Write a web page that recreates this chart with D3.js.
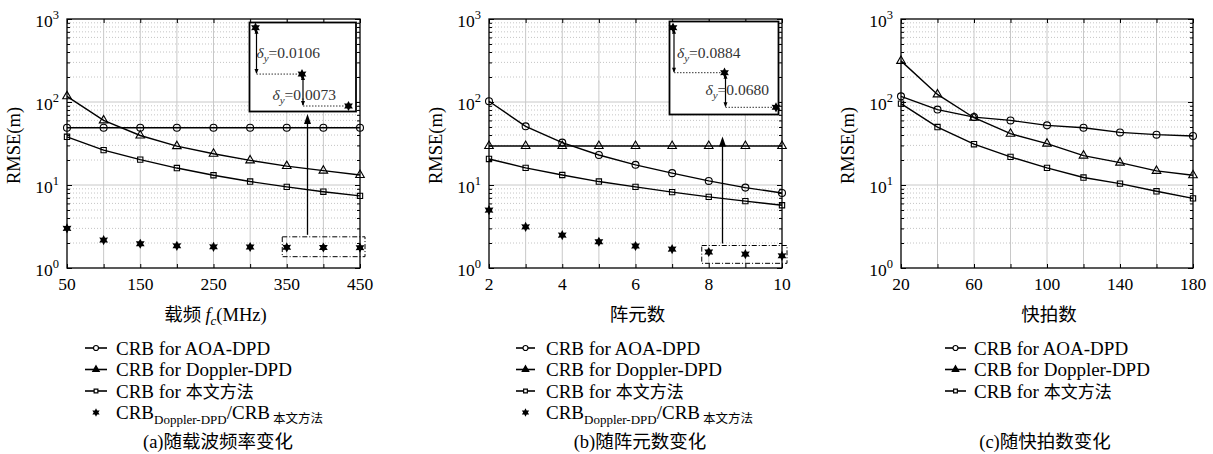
<!DOCTYPE html>
<html>
<head>
<meta charset="utf-8">
<script src="https://cdn.jsdelivr.net/npm/d3@7"></script>
<style>
  body { margin: 0; background: #fff; }
  svg text { font-family: "Liberation Serif", "Times New Roman", Times, "DejaVu Serif", serif; fill: #000; }
  svg .cjk { font-family: "Noto Sans CJK SC", "Noto Sans CJK JP", sans-serif; }
</style>
</head>
<body>
<svg id="chart" width="1213" height="454"></svg>
<script>
// ---- data ----
const yDecades = [1, 10, 100, 1000];
const yDecadeExp = ["0", "1", "2", "3"];

// (a) carrier frequency
const freqX = [50, 100, 150, 200, 250, 300, 350, 400, 450];
const freqTicks = [50, 150, 250, 350, 450];
const freqAoa = [49, 49, 49, 49, 49, 49, 49, 49, 49];
const freqDoppler = [117, 60, 39.5, 29.4, 23.8, 19.8, 16.9, 14.9, 13.2];
const freqOurs = [38.1, 26.3, 20.2, 16.0, 13.1, 11.0, 9.5, 8.3, 7.4];
const freqRatio = [3.0, 2.17, 1.96, 1.85, 1.80, 1.79, 1.775, 1.7644, 1.7571];
const freqDelta = ["0.0106", "0.0073"];

// (b) number of array elements
const elemX = [2, 3, 4, 5, 6, 7, 8, 9, 10];
const elemTicks = [2, 4, 6, 8, 10];
const elemAoa = [102, 50.9, 32.4, 23.0, 17.5, 13.9, 11.2, 9.3, 8.0];
const elemDoppler = [29.5, 29.5, 29.5, 29.5, 29.5, 29.5, 29.5, 29.5, 29.5];
const elemOurs = [20.6, 16.1, 13.2, 11.0, 9.5, 8.2, 7.2, 6.4, 5.7];
const elemRatio = [4.98, 3.13, 2.49, 2.07, 1.84, 1.69, 1.5584, 1.47, 1.402];
const elemDelta = ["0.0884", "0.0680"];

// (c) snapshots
const snapX = [20, 40, 60, 80, 100, 120, 140, 160, 180];
const snapTicks = [20, 60, 100, 140, 180];
const snapAoa = [117, 81, 65.8, 60, 52.3, 49, 43, 40.4, 38.9];
const snapDoppler = [313, 123.5, 64.6, 41.5, 31.5, 22.6, 18.6, 14.8, 13.1];
const snapOurs = [95.5, 49.9, 31, 21.8, 16.1, 12.3, 10.4, 8.4, 6.9];

const legendNames = ["CRB for AOA-DPD", "CRB for Doppler-DPD", "CRB for "];
const oursName = "本文方法";

const svg = d3.select("#chart");
const TOP = 19, BOTTOM = 268;
const LEG_Y = [354.5, 376, 397.5, 419];

// 6-pointed star (hexagram) marker
const hexStar = {
  draw(ctx, size) {
    const r = Math.sqrt(size) * 0.75, ri = r * 0.55;
    for (let i = 0; i < 12; i++) {
      const a = -Math.PI / 2 + i * Math.PI / 6;
      const rr = i % 2 ? ri : r;
      if (i === 0) ctx.moveTo(rr * Math.cos(a), rr * Math.sin(a));
      else ctx.lineTo(rr * Math.cos(a), rr * Math.sin(a));
    }
    ctx.closePath();
  }
};

const markerFor = (kind, big) => {
  if (kind === "circle") return d3.symbol(d3.symbolCircle, big ? 38 : 20)();
  if (kind === "tri") return d3.symbol(d3.symbolTriangle, big ? 32 : 18)();
  if (kind === "square") return d3.symbol(d3.symbolSquare, big ? 28 : 14)();
  return d3.symbol(hexStar, big ? 46 : 32)();
};

const drawPanel = (p) => {
  const x = d3.scaleLinear().domain(d3.extent(p.xs)).range([p.left, p.right]);
  const y = d3.scaleLog().domain([1, 1000]).range([BOTTOM, TOP]);
  const g = svg.append("g");

  // grid
  const minor = y.ticks().filter(v => !yDecades.includes(v));
  g.append("g").selectAll("line").data(minor).join("line")
    .attr("x1", p.left).attr("x2", p.right)
    .attr("y1", d => y(d)).attr("y2", d => y(d))
    .attr("stroke", "#b5b5b5").attr("stroke-width", 0.8).attr("stroke-dasharray", "1,2");
  g.append("g").selectAll("line").data(yDecades.slice(1, -1)).join("line")
    .attr("x1", p.left).attr("x2", p.right)
    .attr("y1", d => y(d)).attr("y2", d => y(d))
    .attr("stroke", "#c8c8c8").attr("stroke-width", 1);
  g.append("g").selectAll("line").data(p.xs.slice(1, -1)).join("line")
    .attr("x1", d => x(d)).attr("x2", d => x(d))
    .attr("y1", TOP).attr("y2", BOTTOM)
    .attr("stroke", "#c8c8c8").attr("stroke-width", 1);

  // ticks pointing inward on all four sides
  const tickStyle = sel => { sel.select(".domain").remove(); sel.selectAll("text").remove(); sel.selectAll("line").attr("stroke", "#000"); };
  g.append("g").attr("transform", `translate(${p.left},0)`)
    .call(d3.axisLeft(y).tickValues(yDecades).tickSize(-5)).call(tickStyle);
  g.append("g").attr("transform", `translate(${p.left},0)`)
    .call(d3.axisLeft(y).tickValues(minor).tickSize(-3)).call(tickStyle);
  g.append("g").attr("transform", `translate(${p.right},0)`)
    .call(d3.axisRight(y).tickValues(yDecades).tickSize(-5)).call(tickStyle);
  g.append("g").attr("transform", `translate(${p.right},0)`)
    .call(d3.axisRight(y).tickValues(minor).tickSize(-3)).call(tickStyle);
  g.append("g").attr("transform", `translate(0,${BOTTOM})`)
    .call(d3.axisBottom(x).tickValues(p.xs).tickSize(-4)).call(tickStyle);
  g.append("g").attr("transform", `translate(0,${TOP})`)
    .call(d3.axisTop(x).tickValues(p.xs).tickSize(-4)).call(tickStyle);

  // frame
  g.append("rect").attr("x", p.left).attr("y", TOP)
    .attr("width", p.right - p.left).attr("height", BOTTOM - TOP)
    .attr("fill", "none").attr("stroke", "#000").attr("stroke-width", 1.3);

  // y tick labels 10^n
  yDecades.forEach((v, i) => {
    const t = g.append("text").attr("x", p.left - 8).attr("y", y(v) + 8)
      .attr("text-anchor", "end").style("font-size", "17.5px");
    t.append("tspan").text("10");
    t.append("tspan").attr("dy", -8).style("font-size", "12.5px").text(yDecadeExp[i]);
  });
  // x tick labels
  g.append("g").selectAll("text").data(p.ticks).join("text")
    .attr("x", d => x(d)).attr("y", BOTTOM + 22)
    .attr("text-anchor", "middle").style("font-size", "17.5px").text(d => d);

  // y title
  g.append("text")
    .attr("transform", `translate(${p.left - 47},${(TOP + BOTTOM) / 2 + 2}) rotate(-90)`)
    .attr("text-anchor", "middle").style("font-size", "18.5px").text("RMSE(m)");

  // x title
  const xt = g.append("text").attr("x", (p.left + p.right) / 2 + 2).attr("y", 321)
    .attr("text-anchor", "middle").style("font-size", "18.5px");
  p.xTitle(xt);

  // series
  const line = d3.line().x(d => x(d[0])).y(d => y(d[1]));
  p.series.forEach(s => {
    const pts = d3.zip(p.xs, s.values);
    g.append("path").datum(pts).attr("d", line)
      .attr("fill", "none").attr("stroke", "#000").attr("stroke-width", 1.4);
    g.append("g").selectAll("path").data(pts).join("path")
      .attr("transform", d => `translate(${x(d[0])},${y(d[1])})`)
      .attr("d", markerFor(s.marker, true))
      .attr("fill", "none").attr("stroke", "#000").attr("stroke-width", 1.1);
  });
  if (p.ratio) {
    const pts = d3.zip(p.xs, p.ratio);
    g.append("g").selectAll("path").data(pts).join("path")
      .attr("transform", d => `translate(${x(d[0])},${y(d[1])})`)
      .attr("d", markerFor("star", true)).attr("fill", "#000");
  }

  // zoom-in inset
  if (p.inset) {
    const ins = p.inset;
    const last = p.xs.slice(-3), lastV = p.ratio.slice(-3);
    const rx0 = x(last[0]) - ins.padL, rx1 = x(last[2]) + 5;
    const ry0 = y(d3.max(lastV)) - ins.padT, ry1 = y(d3.min(lastV)) + ins.padB;
    g.append("rect").attr("x", rx0).attr("y", ry0)
      .attr("width", rx1 - rx0).attr("height", ry1 - ry0)
      .attr("fill", "none").attr("stroke", "#000").attr("stroke-width", 1)
      .attr("stroke-dasharray", "5,2,1,2");
    g.append("line").attr("x1", ins.arrowX).attr("x2", ins.arrowX)
      .attr("y1", ry0 - 2).attr("y2", ins.arrowTip + 8)
      .attr("stroke", "#000").attr("stroke-width", 1.3);
    g.append("path")
      .attr("d", `M${ins.arrowX},${ins.arrowTip} l-3.5,10 l7,0 z`).attr("fill", "#000");

    const [bx0, by0, bx1, by1] = ins.box;
    g.append("rect").attr("x", bx0).attr("y", by0)
      .attr("width", bx1 - bx0).attr("height", by1 - by0)
      .attr("fill", "#fff").attr("stroke", "#000").attr("stroke-width", 1.8);
    const ix = d3.scaleLinear().domain([last[0], last[2]]).range(ins.xr);
    const iy = d3.scaleLinear().domain([lastV[0], lastV[2]]).range(ins.yr);
    const P = last.map((v, i) => [ix(v), iy(lastV[i])]);
    // steps between the three points
    for (let k = 0; k < 2; k++) {
      const [ax, ay] = P[k], [bx, by] = P[k + 1];
      const vx = ax + 1;
      g.append("line").attr("x1", vx).attr("x2", vx).attr("y1", ay + 2).attr("y2", by - 1)
        .attr("stroke", "#000").attr("stroke-width", 1.2);
      g.append("path").attr("d", `M${vx},${ay + 1} l-2,5 l4,0 z`).attr("fill", "#000");
      g.append("path").attr("d", `M${vx},${by} l-2,-5 l4,0 z`).attr("fill", "#000");
      g.append("line").attr("x1", vx).attr("x2", bx).attr("y1", by).attr("y2", by)
        .attr("stroke", "#333").attr("stroke-width", 1).attr("stroke-dasharray", "1.5,1.5");
      const t = g.append("text").attr("x", ins.labels[k][0]).attr("y", ins.labels[k][1] + 5)
        .style("font-size", "15.5px").style("fill", "#333");
      t.append("tspan").style("font-style", "italic").style("fill", "#333").text("δ");
      t.append("tspan").attr("dy", 4).style("font-size", "11px").style("font-style", "italic")
        .style("fill", "#333").text("y");
      t.append("tspan").attr("dy", -4).style("fill", "#333").text("=" + p.delta[k]);
    }
    g.append("g").selectAll("path").data(P).join("path")
      .attr("transform", d => `translate(${d[0]},${d[1]})`)
      .attr("d", markerFor("star", true)).attr("fill", "#000");
  }

  // legend
  const rows = p.series.map((s, i) => ({ name: legendNames[i], marker: s.marker }));
  const L = p.legend;
  rows.forEach((r, i) => {
    const by = LEG_Y[i], cy = by - 6.5;
    g.append("line").attr("x1", L.x0).attr("x2", L.x1).attr("y1", cy).attr("y2", cy)
      .attr("stroke", "#000").attr("stroke-width", 1.6);
    g.append("path").attr("transform", `translate(${(L.x0 + L.x1) / 2},${cy})`)
      .attr("d", markerFor(r.marker, false))
      .attr("fill", r.marker === "tri" ? "#000" : "#fff").attr("stroke", "#000").attr("stroke-width", 1.2);
    const t = g.append("text").attr("x", L.tx).attr("y", by).style("font-size", "19px").text(r.name);
    if (i === 2) t.append("tspan").attr("class", "cjk").style("font-size", "17px").text(oursName);
  });
  if (p.ratio) {
    const by = LEG_Y[3], cy = by - 6.5;
    g.append("path").attr("transform", `translate(${(L.x0 + L.x1) / 2},${cy})`)
      .attr("d", markerFor("star", false)).attr("fill", "#000");
    const t = g.append("text").attr("x", L.tx).attr("y", by).style("font-size", "19px");
    t.append("tspan").text("CRB");
    t.append("tspan").attr("dy", 5).style("font-size", "13px").text("Doppler-DPD");
    t.append("tspan").attr("dy", -5).text("/CRB");
    t.append("tspan").attr("class", "cjk").attr("dy", 4).attr("dx", 3)
      .style("font-size", "12.5px").text(oursName);
  }

  // caption
  const cap = g.append("text").attr("x", p.capX).attr("y", 448)
    .attr("text-anchor", "middle").style("font-size", "18.5px");
  cap.append("tspan").text(p.caption[0]);
  cap.append("tspan").attr("class", "cjk").text(p.caption[1]);
};

drawPanel({
  left: 67, right: 360, xs: freqX, ticks: freqTicks,
  series: [
    { values: freqAoa, marker: "circle" },
    { values: freqDoppler, marker: "tri" },
    { values: freqOurs, marker: "square" }
  ],
  ratio: freqRatio, delta: freqDelta,
  inset: {
    box: [249.5, 22.5, 356, 111.5], xr: [255.5, 348.5], yr: [27.7, 106],
    labels: [[256.5, 52.5], [272.5, 95]], arrowX: 307.5, arrowTip: 114,
    padL: 4.5, padT: 10.5, padB: 9
  },
  xTitle: t => {
    t.append("tspan").attr("class", "cjk").text("载频 ");
    t.append("tspan").style("font-style", "italic").text("f");
    t.append("tspan").attr("dy", 4).style("font-size", "13px").style("font-style", "italic").text("c");
    t.append("tspan").attr("dy", -4).text("(MHz)");
  },
  legend: { x0: 85, x1: 107, tx: 116 },
  caption: ["(a)", "随载波频率变化"], capX: 218
});

drawPanel({
  left: 489, right: 782, xs: elemX, ticks: elemTicks,
  series: [
    { values: elemAoa, marker: "circle" },
    { values: elemDoppler, marker: "tri" },
    { values: elemOurs, marker: "square" }
  ],
  ratio: elemRatio, delta: elemDelta,
  inset: {
    box: [669.5, 21.5, 778.5, 114.5], xr: [673, 776], yr: [27.7, 107.3],
    labels: [[677, 52.5], [705.5, 90]], arrowX: 722.5, arrowTip: 136.5,
    padL: 7, padT: 6.5, padB: 7.5
  },
  xTitle: t => t.append("tspan").attr("class", "cjk").text("阵元数"),
  legend: { x0: 516, x1: 535, tx: 546 },
  caption: ["(b)", "随阵元数变化"], capX: 640
});

drawPanel({
  left: 901, right: 1193, xs: snapX, ticks: snapTicks,
  series: [
    { values: snapAoa, marker: "circle" },
    { values: snapDoppler, marker: "tri" },
    { values: snapOurs, marker: "square" }
  ],
  xTitle: t => t.append("tspan").attr("class", "cjk").text("快拍数"),
  legend: { x0: 945, x1: 966, tx: 974 },
  caption: ["(c)", "随快拍数变化"], capX: 1045
});
</script>
</body>
</html>
